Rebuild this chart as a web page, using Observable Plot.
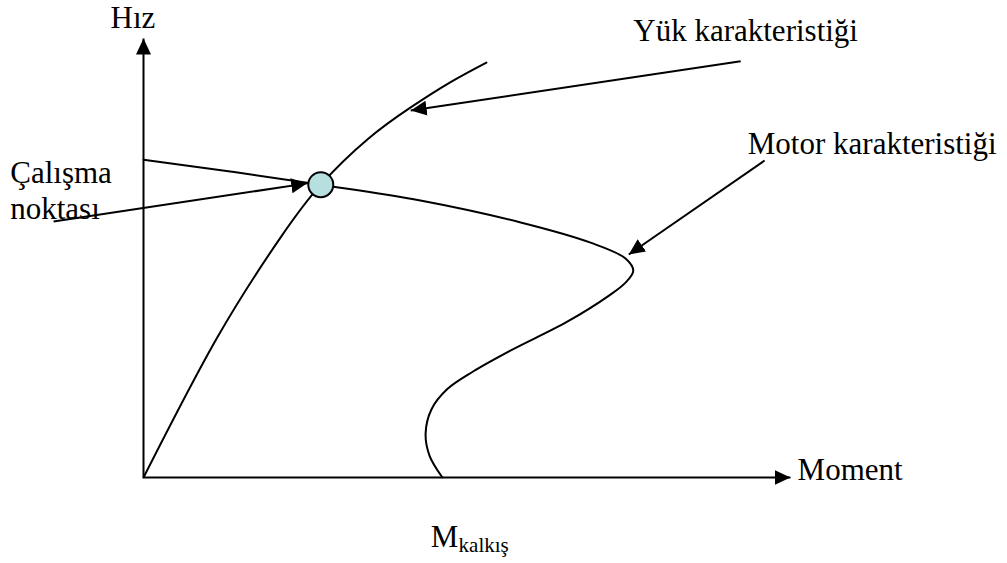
<!DOCTYPE html>
<html><head><meta charset="utf-8">
<script src="https://cdn.jsdelivr.net/npm/d3@7"></script>
<script src="https://cdn.jsdelivr.net/npm/@observablehq/plot@0.6"></script>
<style>
html,body{margin:0;padding:0;background:#fff;}
#chart svg text{font-family:"Liberation Serif","Times New Roman",serif !important;}
</style>
</head><body><div id="chart"></div>
<script>
// Schematic units: x = Moment (torque), y = Hız (speed); both axes run 0..10
const axisMax = 10;

// Yük karakteristiği (load characteristic)
const loadMoment = [0, 1.14, 2.12, 2.74, 3.46, 4.13, 4.74, 5.30];
const loadSpeed  = [0, 3.19, 5.47, 6.67, 7.70, 8.43, 9.00, 9.45];

// Motor karakteristiği (motor characteristic)
const motorMoment = [0, 1.34, 2.74, 4.28, 5.83, 6.91, 7.45, 7.57, 7.45, 7.20, 6.55, 5.67, 5.10, 4.70, 4.45, 4.36, 4.42, 4.62];
const motorSpeed  = [7.24, 6.97, 6.67, 6.31, 5.81, 5.35, 4.99, 4.71, 4.44, 4.15, 3.55, 2.89, 2.42, 2.02, 1.55, 1.00, 0.50, 0];

// Çalışma noktası (operating point)
const operatingMoment = 2.74;
const operatingSpeed = 6.67;

// Annotation pointers (from label to target), in chart units
const pointerFromX = [9.23, 9.60, -1.39];
const pointerFromY = [9.48, 7.22, 5.83];
const pointerToX   = [4.13, 7.50, 2.53];
const pointerToY   = [8.36, 5.08, 6.70];

// Labels, anchored in chart units
const labelText = ["Hız", "Yük karakteristiği", "Motor karakteristiği", "Çalışma\nnoktası", "Moment", "M"];
const labelX    = [-0.51, 7.57, 9.34, -2.06, 10.11, 4.44];
const labelY    = [10.25, 9.95, 7.38, 5.88, -0.05, -1.59];
const subText = ["kalkış"];
const subX = [4.87];
const subY = [-1.69];

const load = loadMoment.map((m, i) => ({moment: m, speed: loadSpeed[i]}));
const motor = motorMoment.map((m, i) => ({moment: m, speed: motorSpeed[i]}));
const axes = [
  {x1: 0, y1: 0, x2: axisMax, y2: 0},
  {x1: 0, y1: 0, x2: 0, y2: axisMax}
];
const pointers = pointerFromX.map((v, i) => ({x1: v, y1: pointerFromY[i], x2: pointerToX[i], y2: pointerToY[i]}));
const labels = labelText.map((t, i) => ({text: t, x: labelX[i], y: labelY[i]}));
const subs = subText.map((t, i) => ({text: t, x: subX[i], y: subY[i]}));

const font = "Liberation Serif";

const svg = Plot.plot({
  width: 1007,
  height: 563,
  margin: 0,
  x: {domain: [0, axisMax], range: [143, 790], axis: null},
  y: {domain: [0, axisMax], range: [477, 38], axis: null},
  marks: [
    Plot.link(axes, {x1: "x1", y1: "y1", x2: "x2", y2: "y2", stroke: "black", strokeWidth: 2, markerEnd: "arrow"}),
    Plot.line(load, {x: "moment", y: "speed", curve: "natural", stroke: "black", strokeWidth: 2}),
    Plot.line(motor, {x: "moment", y: "speed", curve: "catmull-rom", stroke: "black", strokeWidth: 2}),
    Plot.link(pointers, {x1: "x1", y1: "y1", x2: "x2", y2: "y2", stroke: "black", strokeWidth: 2, markerEnd: "arrow"}),
    Plot.dot([{moment: operatingMoment, speed: operatingSpeed}], {x: "moment", y: "speed", r: 12.5, fill: "#b7dfe0", stroke: "black", strokeWidth: 2}),
    Plot.text(labels, {x: "x", y: "y", text: "text", textAnchor: "start", lineAnchor: "bottom", lineHeight: 1.16, fontSize: 31, fontFamily: font, fill: "black"}),
    Plot.text(subs, {x: "x", y: "y", text: "text", textAnchor: "start", lineAnchor: "bottom", fontSize: 21, fontFamily: font, fill: "black"})
  ]
});

// Filled triangular arrow heads
svg.querySelectorAll("marker").forEach(m => {
  m.setAttribute("viewBox", "-16 -8 16 16");
  m.setAttribute("markerWidth", "16");
  m.setAttribute("markerHeight", "16");
  m.setAttribute("markerUnits", "userSpaceOnUse");
  m.setAttribute("refX", "0");
  m.setAttribute("refY", "0");
  m.setAttribute("fill", "#000");
  m.setAttribute("stroke", "none");
  const p = m.querySelector("path");
  if (p) p.setAttribute("d", "M-16,-7.5L0,0L-16,7.5Z");
});
svg.style.background = "#fff";
document.getElementById("chart").appendChild(svg);
</script>
</body></html>
